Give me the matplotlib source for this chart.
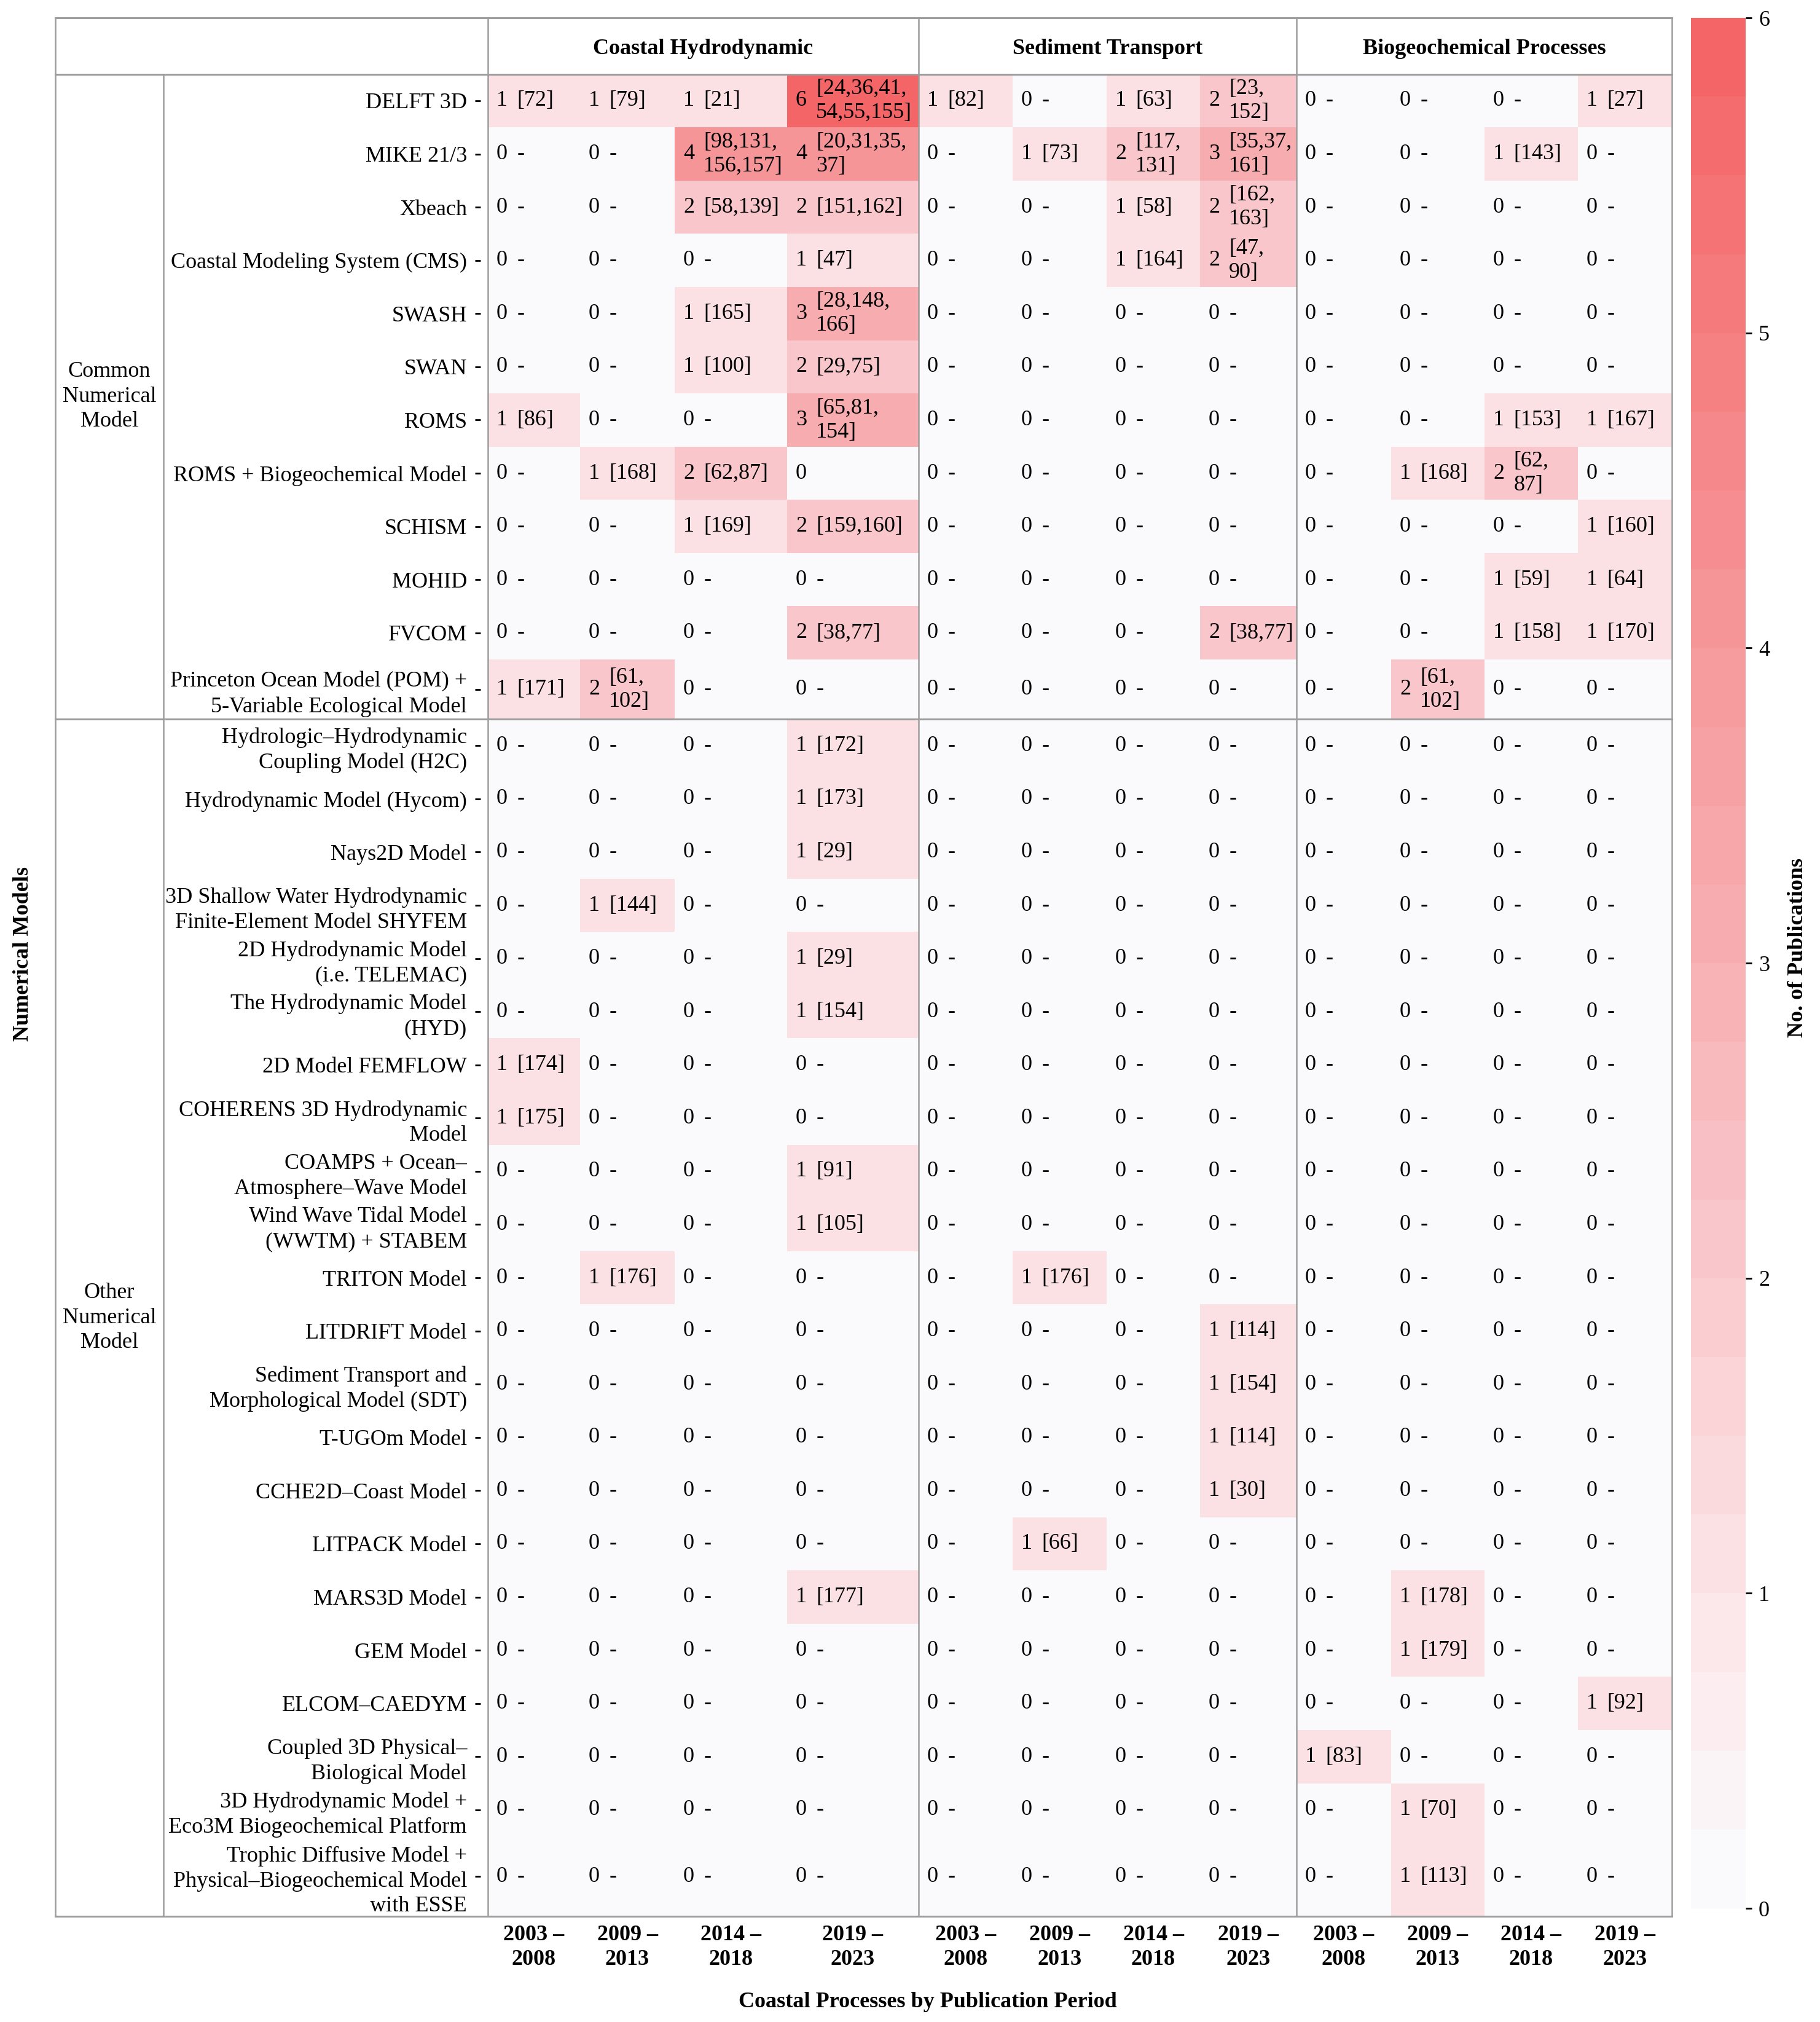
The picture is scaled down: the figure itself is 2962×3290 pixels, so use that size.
"""Heatmap: numerical models vs coastal processes and publication period."""
import matplotlib
matplotlib.use("Agg")
import matplotlib.pyplot as plt
import numpy as np
from matplotlib.colors import LinearSegmentedColormap

plt.rcParams["font.family"] = "Liberation Serif"

# ---------------------------------------------------------------- data
PROCESSES = ["Coastal Hydrodynamic", "Sediment Transport", "Biogeochemical Processes"]
PERIODS = ["2003 –\n2008", "2009 –\n2013", "2014 –\n2018", "2019 –\n2023"]

MODELS = [
    "DELFT 3D", "MIKE 21/3", "Xbeach", "Coastal Modeling System (CMS)", "SWASH",
    "SWAN", "ROMS", "ROMS + Biogeochemical Model", "SCHISM", "MOHID", "FVCOM",
    "Princeton Ocean Model (POM) +\n5-Variable Ecological Model",
    "Hydrologic–Hydrodynamic\nCoupling Model (H2C)",
    "Hydrodynamic Model (Hycom)", "Nays2D Model",
    "3D Shallow Water Hydrodynamic\nFinite-Element Model SHYFEM",
    "2D Hydrodynamic Model\n(i.e. TELEMAC)",
    "The Hydrodynamic Model\n(HYD)", "2D Model FEMFLOW",
    "COHERENS 3D Hydrodynamic\nModel",
    "COAMPS + Ocean–\nAtmosphere–Wave Model",
    "Wind Wave Tidal Model\n(WWTM) + STABEM",
    "TRITON Model", "LITDRIFT Model",
    "Sediment Transport and\nMorphological Model (SDT)",
    "T-UGOm Model", "CCHE2D–Coast Model", "LITPACK Model", "MARS3D Model",
    "GEM Model", "ELCOM–CAEDYM", "Coupled 3D Physical–\nBiological Model",
    "3D Hydrodynamic Model +\nEco3M Biogeochemical Platform",
    "Trophic Diffusive Model +\nPhysical–Biogeochemical Model\nwith ESSE",
]
GROUPS = ["Common\nNumerical\nModel", "Other\nNumerical\nModel"]
GROUP_SIZES = [12, 22]

CH_COUNTS = [
    [1, 1, 1, 6], [0, 0, 4, 4], [0, 0, 2, 2], [0, 0, 0, 1], [0, 0, 1, 3],
    [0, 0, 1, 2], [1, 0, 0, 3], [0, 1, 2, 0], [0, 0, 1, 2], [0, 0, 0, 0],
    [0, 0, 0, 2], [1, 2, 0, 0], [0, 0, 0, 1], [0, 0, 0, 1], [0, 0, 0, 1],
    [0, 1, 0, 0], [0, 0, 0, 1], [0, 0, 0, 1], [1, 0, 0, 0], [1, 0, 0, 0],
    [0, 0, 0, 1], [0, 0, 0, 1], [0, 1, 0, 0], [0, 0, 0, 0], [0, 0, 0, 0],
    [0, 0, 0, 0], [0, 0, 0, 0], [0, 0, 0, 0], [0, 0, 0, 1], [0, 0, 0, 0],
    [0, 0, 0, 0], [0, 0, 0, 0], [0, 0, 0, 0], [0, 0, 0, 0],
]
ST_COUNTS = [
    [1, 0, 1, 2], [0, 1, 2, 3], [0, 0, 1, 2], [0, 0, 1, 2], [0, 0, 0, 0],
    [0, 0, 0, 0], [0, 0, 0, 0], [0, 0, 0, 0], [0, 0, 0, 0], [0, 0, 0, 0],
    [0, 0, 0, 2], [0, 0, 0, 0], [0, 0, 0, 0], [0, 0, 0, 0], [0, 0, 0, 0],
    [0, 0, 0, 0], [0, 0, 0, 0], [0, 0, 0, 0], [0, 0, 0, 0], [0, 0, 0, 0],
    [0, 0, 0, 0], [0, 0, 0, 0], [0, 1, 0, 0], [0, 0, 0, 1], [0, 0, 0, 1],
    [0, 0, 0, 1], [0, 0, 0, 1], [0, 1, 0, 0], [0, 0, 0, 0], [0, 0, 0, 0],
    [0, 0, 0, 0], [0, 0, 0, 0], [0, 0, 0, 0], [0, 0, 0, 0],
]
BP_COUNTS = [
    [0, 0, 0, 1], [0, 0, 1, 0], [0, 0, 0, 0], [0, 0, 0, 0], [0, 0, 0, 0],
    [0, 0, 0, 0], [0, 0, 1, 1], [0, 1, 2, 0], [0, 0, 0, 1], [0, 0, 1, 1],
    [0, 0, 1, 1], [0, 2, 0, 0], [0, 0, 0, 0], [0, 0, 0, 0], [0, 0, 0, 0],
    [0, 0, 0, 0], [0, 0, 0, 0], [0, 0, 0, 0], [0, 0, 0, 0], [0, 0, 0, 0],
    [0, 0, 0, 0], [0, 0, 0, 0], [0, 0, 0, 0], [0, 0, 0, 0], [0, 0, 0, 0],
    [0, 0, 0, 0], [0, 0, 0, 0], [0, 0, 0, 0], [0, 1, 0, 0], [0, 1, 0, 0],
    [0, 0, 0, 1], [1, 0, 0, 0], [0, 1, 0, 0], [0, 1, 0, 0],
]

# references per (model row, column); cells not listed show "-"
REFS = {
    (0, 0): "[72]", (0, 1): "[79]", (0, 2): "[21]", (0, 3): "[24,36,41,\n54,55,155]",
    (0, 4): "[82]", (0, 6): "[63]", (0, 7): "[23,\n152]", (0, 11): "[27]",
    (1, 2): "[98,131,\n156,157]", (1, 3): "[20,31,35,\n37]", (1, 5): "[73]",
    (1, 6): "[117,\n131]", (1, 7): "[35,37,\n161]", (1, 10): "[143]",
    (2, 2): "[58,139]", (2, 3): "[151,162]", (2, 6): "[58]", (2, 7): "[162,\n163]",
    (3, 3): "[47]", (3, 6): "[164]", (3, 7): "[47,\n90]",
    (4, 2): "[165]", (4, 3): "[28,148,\n166]",
    (5, 2): "[100]", (5, 3): "[29,75]",
    (6, 0): "[86]", (6, 3): "[65,81,\n154]", (6, 10): "[153]", (6, 11): "[167]",
    (7, 1): "[168]", (7, 2): "[62,87]", (7, 3): "", (7, 9): "[168]", (7, 10): "[62,\n87]",
    (8, 2): "[169]", (8, 3): "[159,160]", (8, 11): "[160]",
    (9, 10): "[59]", (9, 11): "[64]",
    (10, 3): "[38,77]", (10, 7): "[38,77]", (10, 10): "[158]", (10, 11): "[170]",
    (11, 0): "[171]", (11, 1): "[61,\n102]", (11, 9): "[61,\n102]",
    (12, 3): "[172]", (13, 3): "[173]", (14, 3): "[29]", (15, 1): "[144]",
    (16, 3): "[29]", (17, 3): "[154]", (18, 0): "[174]", (19, 0): "[175]",
    (20, 3): "[91]", (21, 3): "[105]", (22, 1): "[176]", (22, 5): "[176]",
    (23, 7): "[114]", (24, 7): "[154]", (25, 7): "[114]", (26, 7): "[30]",
    (27, 5): "[66]", (28, 3): "[177]", (28, 9): "[178]", (29, 9): "[179]",
    (30, 11): "[92]", (31, 8): "[83]", (32, 9): "[70]", (33, 9): "[113]",
}

# ---------------------------------------------------------------- layout (pixels)
W, H, DPI = 2962, 3290, 200
TABLE_LEFT, GROUP_SPLIT, MAP_LEFT, MAP_RIGHT = 90, 266, 794, 2721
TABLE_TOP, MAP_TOP, MAP_BOTTOM = 29, 120.7, 3118
COL_WIDTHS = [150, 154, 183, 214, 153, 153, 152, 157, 154, 152, 152, 153]
ROW_HEIGHTS = [1.0] * len(MODELS)
ROW_HEIGHTS[11] = 1.12
ROW_HEIGHTS[-1] = 1.5
LINE_COLOR = "#9d9d9d"
FS = 13
LS = 1.3

cmap = LinearSegmentedColormap.from_list(
    "pubs",
    [(0.0, "#fafafc"), (1 / 6, "#fce2e5"), (2 / 6, "#f9c9cd"),
     (3 / 6, "#f7b0b3"), (4 / 6, "#f69a9d"), (1.0, "#f46567")],
    N=24,
)

values = np.hstack([np.array(CH_COUNTS), np.array(ST_COUNTS), np.array(BP_COUNTS)])
xe = MAP_LEFT + np.concatenate([[0], np.cumsum(COL_WIDTHS)])
unit = (MAP_BOTTOM - MAP_TOP) / sum(ROW_HEIGHTS)
ye = MAP_TOP + unit * np.concatenate([[0], np.cumsum(ROW_HEIGHTS)])
xc = (xe[:-1] + xe[1:]) / 2
yc = (ye[:-1] + ye[1:]) / 2

fig = plt.figure(figsize=(W / DPI, H / DPI), dpi=DPI)
fig.patch.set_facecolor("white")

ax = fig.add_axes([MAP_LEFT / W, 1 - MAP_BOTTOM / H,
                   (MAP_RIGHT - MAP_LEFT) / W, (MAP_BOTTOM - MAP_TOP) / H])
for s in ax.spines.values():
    s.set_visible(False)
# ticks sit a little away from the map, as in the source figure
ax.spines["left"].set_position(("outward", 4.3))

mesh = ax.pcolormesh(xe, ye, values, cmap=cmap, vmin=0, vmax=6)
ax.set_xlim(MAP_LEFT, MAP_RIGHT)
ax.set_ylim(MAP_BOTTOM, MAP_TOP)

for i in range(values.shape[0]):
    for j in range(values.shape[1]):
        ax.annotate(str(values[i, j]), (xe[j], yc[i]), xytext=(5, 0),
                    textcoords="offset points", ha="left", va="center", fontsize=FS)
        ref = REFS.get((i, j), "-")
        if ref:
            ax.annotate(ref, (xe[j], yc[i]), xytext=(17, 0),
                        textcoords="offset points", ha="left", va="center",
                        fontsize=FS, linespacing=1.25)

ax.set_yticks(yc)
ax.set_yticklabels(MODELS, fontsize=FS, linespacing=LS)
ax.set_xticks(xc)
ax.set_xticklabels(PERIODS * 3, fontsize=FS, fontweight="bold", linespacing=LS)
ax.tick_params(axis="y", length=3.2, width=1.0, pad=4.7, direction="out")
ax.tick_params(axis="x", length=0, pad=5)

# table frame, headers and group labels on a full-figure overlay in pixels
ov = fig.add_axes([0, 0, 1, 1])
ov.set_xlim(0, W)
ov.set_ylim(H, 0)
ov.axis("off")
group_edge = ye[GROUP_SIZES[0]]
for y in [TABLE_TOP, MAP_TOP, group_edge, MAP_BOTTOM]:
    ov.plot([TABLE_LEFT, MAP_RIGHT], [y, y], color=LINE_COLOR, lw=1.1)
for x in [TABLE_LEFT, MAP_LEFT, xe[4], xe[8], MAP_RIGHT]:
    ov.plot([x, x], [TABLE_TOP, MAP_BOTTOM], color=LINE_COLOR, lw=0.9)
ov.plot([GROUP_SPLIT, GROUP_SPLIT], [MAP_TOP, MAP_BOTTOM], color=LINE_COLOR, lw=0.9)

for k, name in enumerate(PROCESSES):
    ov.text((xe[4 * k] + xe[4 * k + 4]) / 2, (TABLE_TOP + MAP_TOP) / 2 + 5, name,
            ha="center", va="center", fontsize=FS, fontweight="bold")

starts = np.concatenate([[0], np.cumsum(GROUP_SIZES)])
for k, name in enumerate(GROUPS):
    ov.text((TABLE_LEFT + GROUP_SPLIT) / 2, (ye[starts[k]] + ye[starts[k + 1]]) / 2,
            name, ha="center", va="center", fontsize=FS, linespacing=LS)

ov.text(38, 1552, "Numerical Models", rotation=90, ha="center", va="center",
        fontsize=FS, fontweight="bold")
ov.text(1510, 3258, "Coastal Processes by Publication Period", ha="center",
        va="center", fontsize=FS, fontweight="bold")
ov.text(2926, 1542, "No. of Publications", rotation=90, ha="center", va="center",
        fontsize=FS, fontweight="bold")

cax = fig.add_axes([2752 / W, 1 - 3105 / H, 89 / W, (3105 - 29) / H])
cbar = fig.colorbar(mesh, cax=cax, ticks=range(7))
cbar.outline.set_visible(False)
cax.tick_params(length=3.6, width=1.0, pad=4, labelsize=FS)

fig.savefig("out.png", dpi=DPI, facecolor="white")
